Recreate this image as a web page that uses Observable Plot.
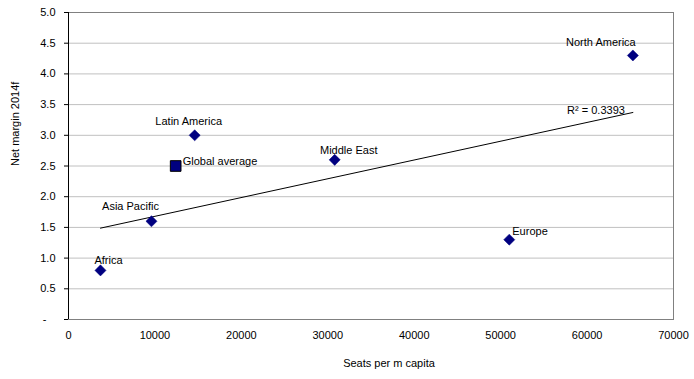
<!DOCTYPE html>
<html><head><meta charset="utf-8">
<script src="https://cdn.jsdelivr.net/npm/d3@7"></script>
<script src="https://cdn.jsdelivr.net/npm/@observablehq/plot@0.6"></script>
<style>body{margin:0;background:#fff} svg{display:block}</style>
</head><body><div id="chart"></div>
<script>
// ---- data ----
const regions = ["Africa", "Asia Pacific", "Latin America", "Middle East", "Europe", "North America"];
const seatsPerMCapita = [3700, 9600, 14600, 30800, 51000, 65300];
const netMargin = [0.8, 1.6, 3.0, 2.6, 1.3, 4.3];
const globalName = ["Global average"];
const globalSeats = [12400];
const globalMargin = [2.5];
const xTicks = [0, 10000, 20000, 30000, 40000, 50000, 60000, 70000];
const yTicks = [0, 0.5, 1.0, 1.5, 2.0, 2.5, 3.0, 3.5, 4.0, 4.5, 5.0];
const r2Label = "R\u00b2 = 0.3393";
const xTitle = "Seats per m capita";
const yTitle = "Net margin 2014f";

// ---- label placement (layout only) ----
const labelLayout = {
  "Africa": {textAnchor: "start", dx: -6, dy: -10},
  "Asia Pacific": {textAnchor: "middle", dx: -21, dy: -15},
  "Latin America": {textAnchor: "middle", dx: -6, dy: -14},
  "Middle East": {textAnchor: "middle", dx: 14, dy: -9},
  "Europe": {textAnchor: "start", dx: 3, dy: -8},
  "North America": {textAnchor: "middle", dx: -32, dy: -13},
  "Global average": {textAnchor: "start", dx: 7, dy: -5}
};

const rows = regions.map((name, i) => ({name, x: seatsPerMCapita[i], y: netMargin[i]}));
const globalRows = globalName.map((name, i) => ({name, x: globalSeats[i], y: globalMargin[i]}));

// regression endpoint for the R² label
const mx = d3.mean(rows, d => d.x), my = d3.mean(rows, d => d.y);
const slope = d3.sum(rows, d => (d.x - mx) * (d.y - my)) / d3.sum(rows, d => (d.x - mx) ** 2);
const xEnd = d3.max(rows, d => d.x);
const r2Row = [{x: xEnd, y: my + slope * (xEnd - mx), t: r2Label}];

const navy = "#000080";
const font = {fontFamily: "'Liberation Sans', Arial, sans-serif", fontSize: 11, fill: "black"};

const labelMarks = [...rows, ...globalRows].map(r =>
  Plot.text([r], {x: "x", y: "y", text: "name", ...labelLayout[r.name], ...font})
);

const chart = Plot.plot({
  width: 694,
  height: 379,
  marginLeft: 68,
  marginRight: 21,
  marginTop: 12,
  marginBottom: 60,
  style: {fontFamily: "'Liberation Sans', Arial, sans-serif", fontSize: "11px", color: "black", background: "white"},
  x: {domain: [0, 70000]},
  y: {domain: [0, 5]},
  marks: [
    Plot.ruleY(yTicks.filter(t => t > 0 && t < 5), {stroke: "#c0c0c0", strokeWidth: 1}),
    Plot.frame({stroke: "#808080", strokeWidth: 1}),
    Plot.ruleX([0], {stroke: "black", strokeWidth: 1}),
    Plot.axisY(yTicks, {tickSize: 4, tickPadding: 9, stroke: "black",
      tickFormat: d => d === 0 ? "-\u00a0\u00a0\u00a0" : d.toFixed(1), label: null, fontSize: 11}),
    Plot.axisX(xTicks, {tickSize: 0, tickPadding: 12, tickFormat: d => String(d), label: null, fontSize: 11}),
    Plot.linearRegressionY(rows, {x: "x", y: "y", ci: 0, stroke: "black", strokeWidth: 1}),
    Plot.dot(rows, {x: "x", y: "y", symbol: "diamond2", r: 5, fill: navy, stroke: navy, strokeWidth: 0.5}),
    Plot.dot(globalRows, {x: "x", y: "y", symbol: "square", r: 6, fill: navy, stroke: "black", strokeWidth: 1}),
    ...labelMarks,
    Plot.text(r2Row, {x: "x", y: "y", text: "t", textAnchor: "end", dx: -8, dy: -2, ...font}),
    Plot.text([xTitle], {frameAnchor: "bottom", dx: 18, dy: 47, ...font}),
    Plot.text([yTitle], {frameAnchor: "left", dx: -53, rotate: -90, ...font})
  ]
});
document.getElementById("chart").append(chart);
</script>
</body></html>
